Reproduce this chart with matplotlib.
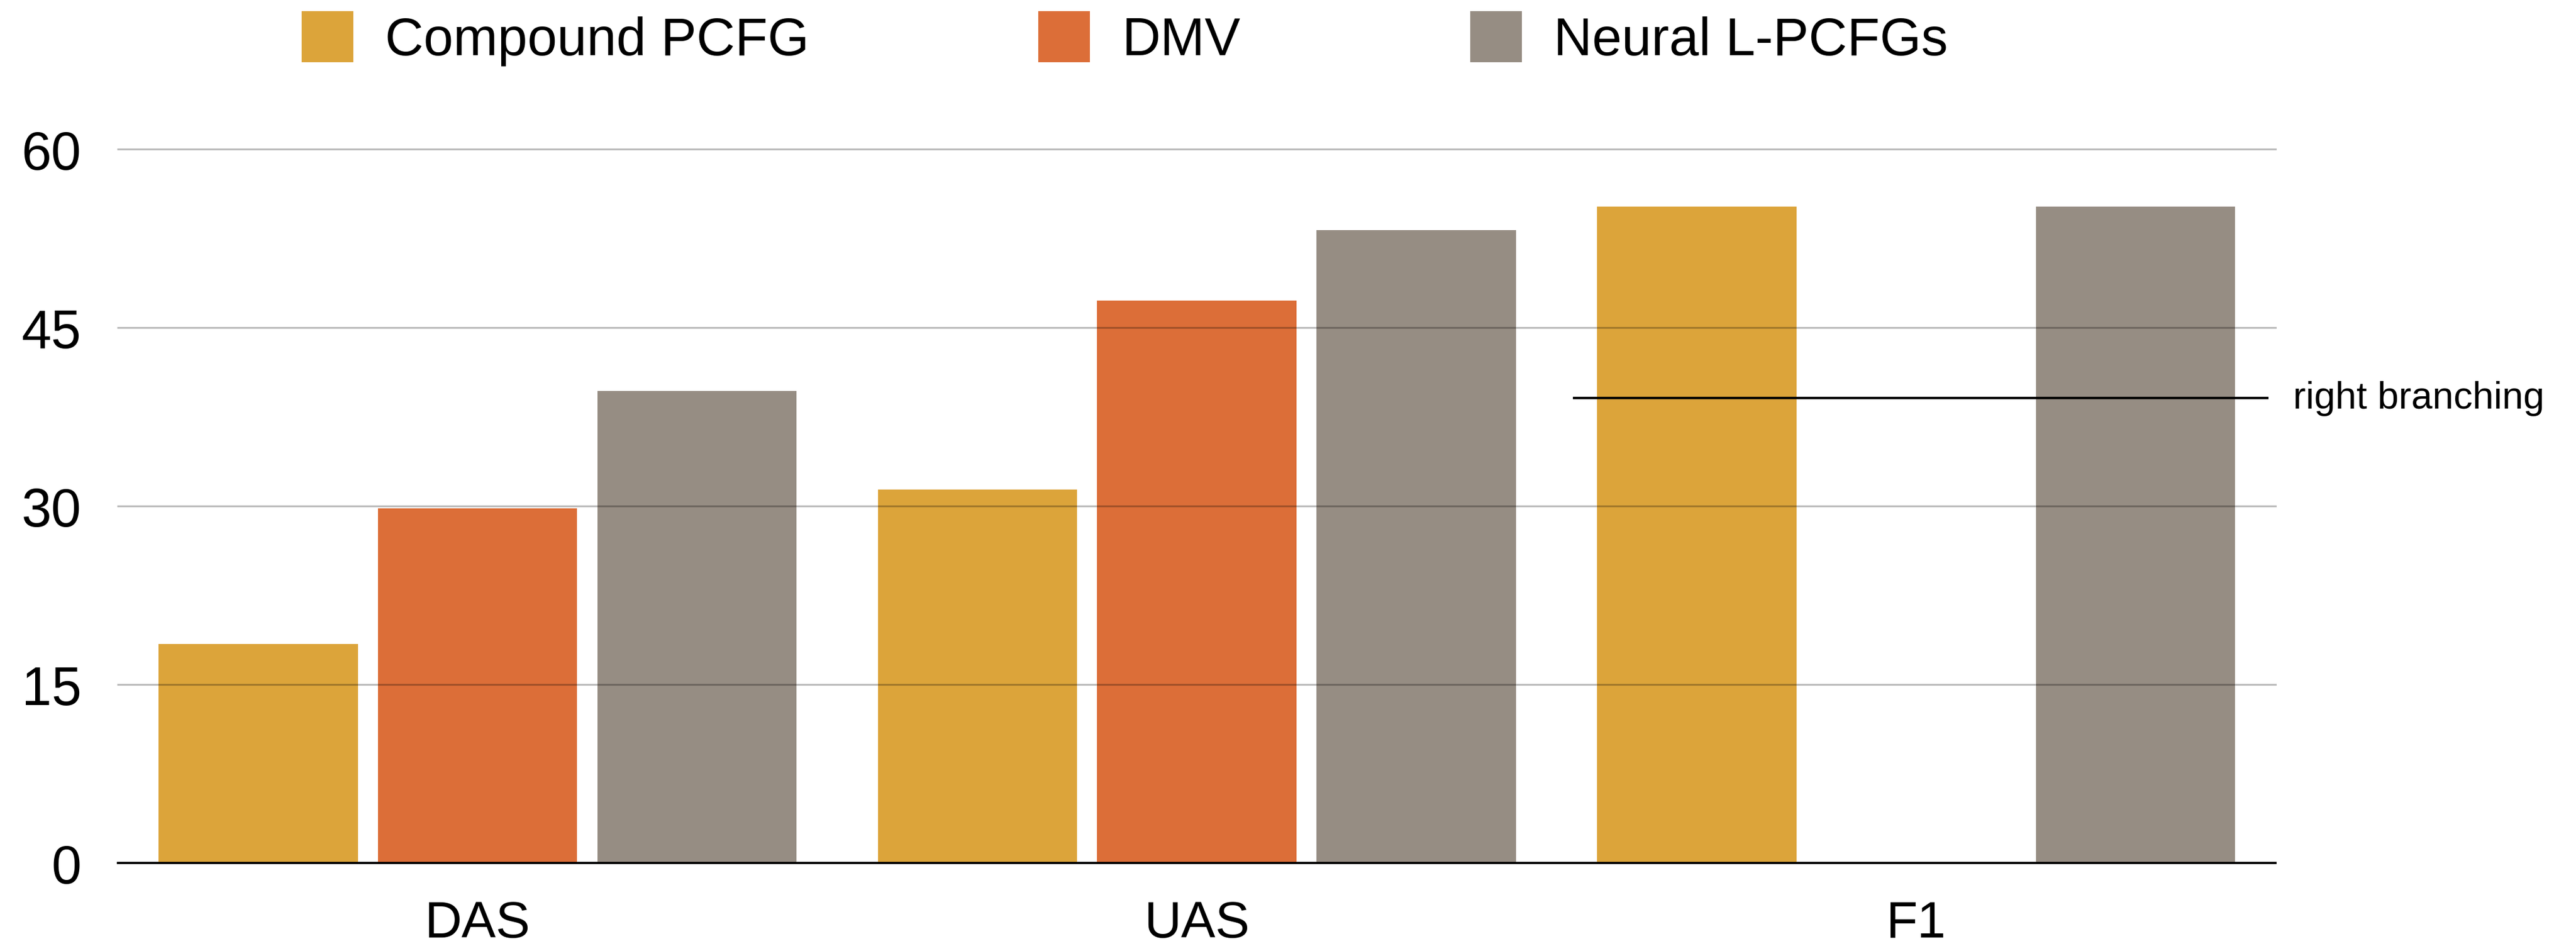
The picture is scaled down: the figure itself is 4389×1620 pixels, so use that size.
import numpy as np
import matplotlib.pyplot as plt

plt.rcParams['font.family'] = ['Liberation Sans', 'DejaVu Sans']

metrics = ["DAS", "UAS", "F1"]
compound_pcfg = [18.4, 31.4, 55.2]
dmv = [29.8, 47.3, np.nan]  # no F1 score for DMV
neural_lpcfg = [39.7, 53.2, 55.2]
right_branching_f1 = 39.1

series = ["Compound PCFG", "DMV", "Neural L-PCFGs"]
colors = ["#DCA43A", "#DC6E38", "#968D83"]

fig = plt.figure(figsize=(14.63, 5.4033), dpi=300)
ax = fig.add_axes([0.0458, 0.0925, 0.8376, 0.7625])

x = np.arange(len(metrics))
offsets = [-0.305, 0.0, 0.305]
for vals, off, col, name in zip([compound_pcfg, dmv, neural_lpcfg], offsets, colors, series):
    ax.bar(x + off, vals, width=0.277, color=col, label=name, zorder=2)

ax.set_xlim(-0.5, 2.5)
ax.set_ylim(0, 61)
ax.set_yticks([0, 15, 30, 45, 60])
ax.set_xticks(x)
ax.set_xticklabels(metrics)
ax.tick_params(axis='y', length=0, pad=15, labelsize=22)
ax.tick_params(axis='x', length=0, pad=15, labelsize=21)

# horizontal grid drawn over the bars, faint
for v in [15, 30, 45, 60]:
    ax.axhline(v, color='black', alpha=0.27, lw=0.75, zorder=3, clip_on=False)

for s in ['top', 'right', 'left']:
    ax.spines[s].set_visible(False)
ax.spines['bottom'].set_linewidth(0.9)
ax.spines['bottom'].set_zorder(4)

# right-branching baseline for F1
ax.axhline(right_branching_f1, xmin=0.675, xmax=0.996, color='black', lw=1.0, zorder=4)
ax.text(1.008, right_branching_f1, "right branching", transform=ax.get_yaxis_transform(),
        ha='left', va='center', fontsize=15.5)

fig.legend(loc='center left', bbox_to_anchor=(0.117, 0.959), ncol=3, frameon=False,
           fontsize=21.8, handlelength=0.97, handleheight=1.1, handletextpad=0.6,
           columnspacing=4.3, borderpad=0, borderaxespad=0)

fig.savefig("out.png", dpi=300)
